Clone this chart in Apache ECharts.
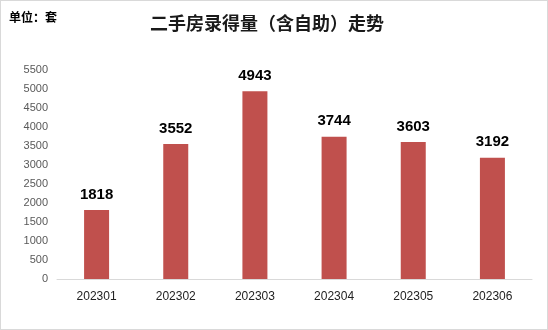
<!DOCTYPE html>
<html><head><meta charset="utf-8">
<script src="https://cdn.jsdelivr.net/npm/echarts@6/dist/echarts.min.js"></script>
<style>html,body{margin:0;padding:0;background:#fff}#c{width:546px;height:328px;border:1px solid #d9d9d9}</style>
</head><body><div id="c"></div>
<script>
const categories = ['202301','202302','202303','202304','202305','202306'];
const values = [1818, 3552, 4943, 3744, 3603, 3192];
const titleText = '二手房录得量（含自助）走势';
const unitText = '单位：套';
const chart = echarts.init(document.getElementById('c'));
chart.setOption({
  animation: false,
  title: [
    {text: titleText, left: 144, top: 8, textStyle: {fontFamily: 'Noto Sans CJK SC', fontSize: 18, fontWeight: 'bold', color: '#1a1a1a'}},
    {text: unitText, left: 3, top: 5, textStyle: {fontFamily: 'Noto Sans CJK SC', fontSize: 12, fontWeight: 'bold', color: '#000'}}
  ],
  grid: {left: 56, right: 15, top: 69, bottom: 50},
  xAxis: {
    type: 'category', data: categories,
    axisLine: {lineStyle: {color: '#d9d9d9', width: 1}},
    axisTick: {show: false},
    axisLabel: {color: '#222', fontSize: 12, fontFamily: 'Liberation Sans', margin: 12}
  },
  yAxis: {
    type: 'value', min: 0, max: 5500, interval: 500,
    axisLine: {show: false}, axisTick: {show: false},
    splitLine: {show: false},
    axisLabel: {color: '#595959', fontSize: 11, fontFamily: 'Liberation Sans', margin: 9, formatter: v => String(v)}
  },
  series: [{
    type: 'bar', data: values, barWidth: 25,
    itemStyle: {color: '#c0504d'},
    label: {show: true, position: 'top', distance: 8, color: '#000', fontWeight: 'bold', fontSize: 15, fontFamily: 'Liberation Sans'}
  }]
});
</script></body></html>
